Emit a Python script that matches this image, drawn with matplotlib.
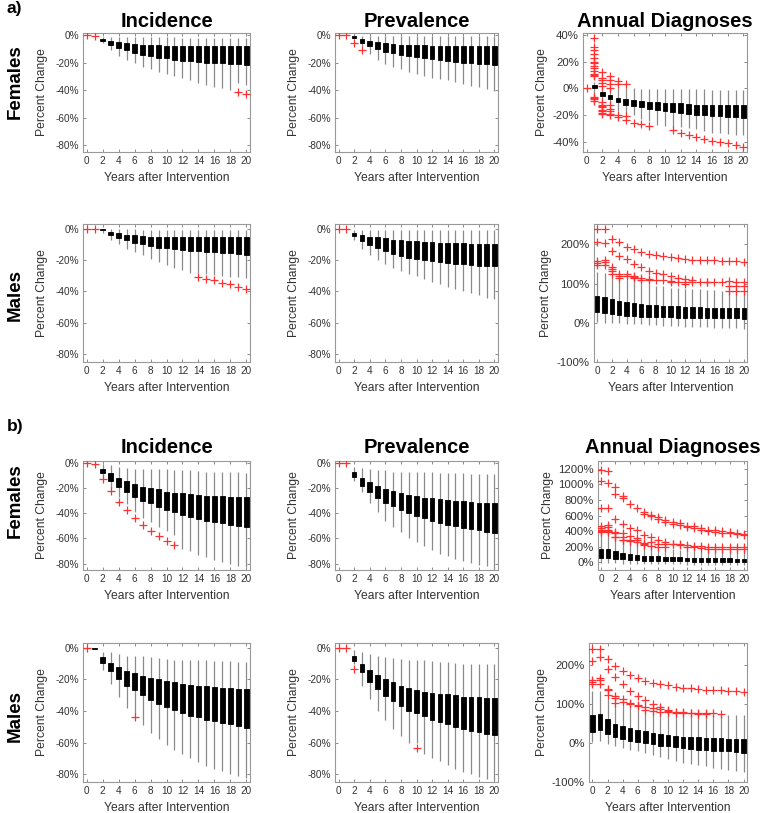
import numpy as np
import matplotlib
matplotlib.use("Agg")
import matplotlib.pyplot as plt
from matplotlib.ticker import FuncFormatter

plt.rcParams['font.family'] = ['Liberation Sans', 'DejaVu Sans']
plt.rcParams['axes.unicode_minus'] = False

nan = np.nan
years = list(range(21))

# ---- a) Females, Incidence ----
a_f_inc_q3 = [nan, nan, -2.5, -4, -5, -6, -6.5, -7, -7.5, -7.5, -8, -8, -8, -8, -8, -8, -8, -8, -8, -8, -8]
a_f_inc_q1 = [nan, nan, -4.5, -7, -9.5, -11, -13, -14.5, -15.5, -16.5, -17, -18, -18.5, -19, -19.5, -20, -20.5, -20.5, -21, -21, -21.5]
a_f_inc_hi = [nan, nan, -1.5, -1.5, -1.5, -1.5, -1.5, -1.5, -1.5, -1.5, -1.5, -1.5, -2, -2, -2, -2, -2, -2, -2, -2, -2]
a_f_inc_lo = [nan, nan, -6, -11, -15, -18, -20.5, -23, -24.5, -26.5, -28, -30, -31.5, -33, -34.5, -36, -37.5, -38.5, -40, -35, -36]
a_f_inc_out = [[0], [-0.5], [], [], [], [], [], [], [], [], [], [], [], [], [], [], [], [], [], [-41.5], [-42.5]]

# ---- a) Females, Prevalence ----
a_f_prev_q3 = [nan, nan, -0.5, -3, -4, -5, -6, -6.5, -7, -7, -7.5, -7.5, -8, -8, -8, -8, -8, -8, -8, -8, -8]
a_f_prev_q1 = [nan, nan, -2, -6, -8, -10, -12, -13, -14.5, -15.5, -16, -17, -17.5, -18, -19, -19.5, -20, -20.5, -21, -21, -21.5]
a_f_prev_hi = [nan, nan, 0, -0.5, -1, -1, -1, -1, -1, -1, -1, -1, -1, -1, -1, -1, -1, -1, -1, -1, -1]
a_f_prev_lo = [nan, nan, -3, -8, -14, -18, -21, -23, -25, -27, -28, -29.5, -31, -32, -33, -34, -35.5, -37, -38, -39.5, -41]
a_f_prev_out = [[0], [0], [-5.5], [-11], [], [], [], [], [], [], [], [], [], [], [], [], [], [], [], [], []]

# ---- a) Females, Annual Diagnoses ----
a_f_dx_q3 = [nan, 2.5, -3, -5, -7, -8, -8.5, -9, -10, -10, -11, -11, -11, -11.5, -12, -12, -12, -12, -12.5, -12.5, -12.5]
a_f_dx_q1 = [nan, 0.5, -5.5, -8, -10, -12, -13, -14, -15, -16, -17, -17.5, -18, -19, -19.5, -20, -20.5, -20.5, -21, -21.5, -22]
a_f_dx_hi = [nan, 5, 1, 0, 0, 0, 0, -0.5, -0.5, -0.5, -0.5, -0.5, -0.5, -0.5, -0.5, -0.5, -1, -1, -1, -1, -1]
a_f_dx_lo = [nan, -4, -9, -11, -17, -19, -20, -23, -24, -27, -28, -28.5, -29, -29.5, -30.5, -32, -33, -33.5, -34, -34.5, -35]
a_f_dx_out = [[0.5],
              [38, 31, 29, 26, 23, 20, 19, 17, 15, 13, 11, 10, 9, -6, -7, -8, -9],
              [12, 8, 6, 4, 2, -10, -12, -13, -14, -16, -17, -18, -19],
              [9, 6, 3, 0, -12, -15, -17, -19, -20],
              [5.5, 3, -19.5, -21.5], [3, -20.5, -23.5], [-25.5], [-26.5], [-28], [], [],
              [-31], [-33], [-34.5], [-36], [-37.5], [-39], [-40], [-41], [-42], [-43.5]]

# ---- a) Males, Incidence ----
a_m_inc_q3 = [nan, nan, -0.5, -2, -3, -4, -4, -4.5, -5, -5, -5, -5, -5.5, -5.5, -5.5, -5.5, -5.5, -5.5, -5.5, -5.5, -5.5]
a_m_inc_q1 = [nan, nan, -1, -4, -6, -7.5, -9, -10, -11, -12, -12.5, -13, -13.5, -14, -14.5, -15, -15, -15.5, -15.5, -16, -16.5]
a_m_inc_hi = [nan, nan, 0, -0.5, -0.5, -0.5, -0.5, -1, -1, -1, -1, -1, -1, -1, -1, -1, -1, -1, -1, -1, -1]
a_m_inc_lo = [nan, nan, -2.5, -7, -10, -13, -15, -17, -19.5, -21, -23, -25, -26.5, -28, -28.5, -29, -29.5, -30, -30.5, -31, -31.5]
a_m_inc_out = [[0], [-0.3], [], [], [], [], [], [], [], [], [], [], [], [],
               [-30.5], [-32], [-33], [-34.5], [-35.5], [-37], [-38.5]]

# ---- a) Males, Prevalence ----
a_m_prev_q3 = [nan, nan, -2.5, -4, -5, -5.5, -6, -7, -7.5, -8, -8, -8.5, -8.5, -9, -9, -9, -9, -9.5, -9.5, -9.5, -9.5]
a_m_prev_q1 = [nan, nan, -4.5, -8, -10.5, -12.5, -14.5, -16, -17.5, -18.5, -19.5, -20, -20.5, -21, -22, -22.5, -22.5, -23, -23.5, -24, -24]
a_m_prev_hi = [nan, nan, -1, -1, -1, -1, -1, -1, -1, -1, -1, -1, -1, -1, -1, -1, -1, -1, -1, -1, -1]
a_m_prev_lo = [nan, nan, -7, -13, -17, -20, -22.5, -25, -27, -29, -30, -32, -34, -35.5, -37, -38.5, -40, -41, -42.5, -44, -45]
a_m_prev_out = [[0], [0]] + [[] for _ in range(19)]

# ---- a) Males, Annual Diagnoses ----
a_m_dx_q3 = [68, 66, 60, 56, 52, 50, 48, 46, 45, 44, 43, 42, 41, 40, 40, 39, 39, 38, 38, 38, 37]
a_m_dx_q1 = [28, 25, 22, 20, 18, 17, 16, 15, 14, 14, 14, 13, 13, 12, 12, 12, 11, 11, 11, 11, 10]
a_m_dx_hi = [130, 128, 120, 112, 108, 104, 100, 98, 95, 93, 90, 88, 87, 86, 85, 84, 83, 82, 82, 81, 81]
a_m_dx_lo = [2, 0, 0, 0, -2, -3, -4, -5, -6, -7, -8, -9, -10, -10, -11, -12, -13, -13, -14, -14, -15]
a_m_dx_out = [[240, 207, 157, 153, 148], [238, 203, 160, 155, 148], [215, 183, 143, 137, 133, 125],
              [205, 170, 125, 120, 115], [194, 162, 125, 120], [187, 150, 120, 117, 115],
              [181, 142, 114, 110], [176, 133, 112, 110], [172, 128, 110], [170, 125, 108],
              [167, 120, 106, 104], [166, 115, 105], [163, 112, 104, 100], [161, 108, 104],
              [160, 104], [160, 105, 103], [159, 103], [158, 103], [157, 106, 95, 80],
              [157, 105, 95, 80], [156, 105, 95, 80]]

# ---- b) Females, Incidence ----
b_f_inc_q3 = [nan, -0.5, -5, -8, -12, -14, -17, -19, -20, -21, -23, -23.5, -24, -25, -25.5, -26, -26, -26.5, -27, -27, -27]
b_f_inc_q1 = [nan, -1, -8, -14, -19, -23, -27, -30, -32, -35, -37, -39, -41, -43, -44.5, -46, -47, -48, -49, -50, -51]
b_f_inc_hi = [nan, -0.5, -1, -2, -3, -4, -5, -5, -5, -5, -5, -6, -6, -6, -6.5, -7, -7, -7, -7, -7.5, -8]
b_f_inc_lo = [nan, -1, -11, -20, -27, -33, -39, -44, -47, -51, -54, -57, -68, -70, -73, -75, -77, -79, -80, -82, -83]
b_f_inc_out = [[0], [-1], [-12.5], [-22.5], [-31], [-37.5], [-44], [-49.5], [-54], [-58], [-62], [-65],
               [], [], [], [], [], [], [], [], []]

# ---- b) Females, Prevalence ----
b_f_prev_q3 = [nan, nan, -7, -12, -15, -18, -20.5, -22.5, -24, -25.5, -26.5, -27.5, -28, -29, -29.5, -30, -30.5, -31, -31.5, -32, -32]
b_f_prev_q1 = [nan, nan, -11, -18, -23, -27.5, -31.5, -34.5, -37, -40, -42, -44, -46, -47.5, -49, -50, -51.5, -52.5, -53.5, -54.5, -55.5]
b_f_prev_hi = [nan, nan, -3, -4, -5, -6, -6, -7, -7, -7, -7.5, -7.5, -7.5, -8, -8, -8, -8, -8.5, -8.5, -8.5, -8.5]
b_f_prev_lo = [nan, nan, -14, -23, -32, -39, -46, -51, -55, -60, -63, -66, -69, -72, -74, -76, -78, -79.5, -81, -82, -84]
b_f_prev_out = [[0], [0]] + [[] for _ in range(19)]

# ---- b) Females, Annual Diagnoses ----
b_f_dx_q3 = [175, 170, 150, 120, 105, 95, 85, 80, 75, 70, 66, 63, 60, 58, 56, 54, 52, 50, 48, 47, 46]
b_f_dx_q1 = [55, 50, 45, 35, 30, 25, 20, 18, 15, 13, 12, 11, 10, 9, 8, 7, 6, 5, 5, 4, 4]
b_f_dx_hi = [360, 360, 300, 260, 240, 220, 200, 190, 180, 170, 165, 160, 155, 150, 150, 145, 145, 140, 140, 140, 140]
b_f_dx_lo = [-10, -10, -15, -20, -20, -22, -24, -25, -26, -27, -28, -29, -30, -30, -31, -32, -32, -33, -33, -34, -34]
b_f_dx_out = [[1190, 1040, 690, 460, 440, 420, 400, 390], [1170, 1020, 690, 480, 450, 420, 400, 385],
              [960, 880, 560, 390, 370, 330, 320], [850, 820, 490, 370, 330, 290, 280],
              [750, 440, 340, 290, 270], [700, 410, 310, 280, 260], [650, 620, 350, 250, 230, 220],
              [610, 590, 320, 260, 210], [580, 560, 280, 240, 200], [540, 520, 260, 240, 200],
              [520, 490, 240, 230], [500, 480, 230, 220], [470, 450, 220, 200], [460, 440, 210, 190],
              [440, 420, 210, 180], [420, 400, 200, 170], [410, 390, 200, 170], [400, 380, 200, 170],
              [390, 370, 200, 170], [370, 360, 200, 170], [360, 350, 200, 170]]

# ---- b) Males, Incidence ----
b_m_inc_q3 = [nan, -0.3, -6, -9.5, -12, -14.5, -16, -18, -19, -20, -21, -22, -23, -23.5, -24, -24.5, -25, -25.5, -25.5, -26, -26]
b_m_inc_q1 = [nan, -0.8, -9.5, -15, -20, -24, -27, -30, -33, -35.5, -37.5, -39.5, -41, -43, -44, -45.5, -46.5, -47.5, -48.5, -49.5, -50.5]
b_m_inc_hi = [nan, -0.3, -3, -3, -4, -5, -5, -5.5, -6, -6.5, -7, -7.5, -7.5, -8, -8, -8, -8.5, -8.5, -8.5, -9, -9]
b_m_inc_lo = [nan, -0.8, -14, -23, -31, -38, -42, -49, -54, -58, -61.5, -64.5, -67.5, -70, -72.5, -75, -76.5, -78, -80, -81, -82.5]
b_m_inc_out = [[0], [], [], [], [], [], [-44]] + [[] for _ in range(14)]

# ---- b) Males, Prevalence ----
b_m_prev_q3 = [nan, nan, -5.5, -10, -14, -17.5, -20, -22, -24, -25.5, -27, -28, -28.5, -29, -29.5, -30, -31, -31.5, -31.5, -32, -32]
b_m_prev_q1 = [nan, nan, -8.5, -15.5, -21.5, -26, -30.5, -34, -37, -40, -41.5, -43.5, -45.5, -47, -48.5, -50, -51.5, -52.5, -53.5, -54.5, -55.5]
b_m_prev_hi = [nan, nan, -1.5, -3, -4, -5, -6, -6.5, -7, -8, -8, -8, -8.5, -9, -9, -9.5, -10, -10, -10, -10.5, -10.5]
b_m_prev_lo = [nan, nan, -10, -24, -32.5, -40, -46, -51.5, -56, -60, -60, -67, -69.5, -72, -74.5, -77, -78.5, -80, -82, -83, -84]
b_m_prev_out = [[0], [0], [-13.5], [], [], [], [], [], [], [], [-63.5]] + [[] for _ in range(10)]

# ---- b) Males, Annual Diagnoses ----
b_m_dx_q3 = [70, 74, 60, 49, 42, 37, 33, 29, 25, 22, 20, 18, 16, 15, 14, 13, 12, 12, 11, 11, 10]
b_m_dx_q1 = [28, 33, 22, 15, 10, 5, 2, -1, -4, -7, -9, -11, -13, -15, -17, -18, -20, -21, -22, -24, -25]
b_m_dx_hi = [132, 132, 113, 103, 95, 90, 85, 80, 77, 74, 71, 69, 68, 68, 69, 69, 70, 70, 70, 70, 70]
b_m_dx_lo = [2, 5, -2, -8, -12, -17, -22, -27, -32, -37, -42, -47, -51, -54, -57, -60, -63, -66, -69, -72, -75]
b_m_dx_out = [[240, 208, 160, 155, 150], [240, 220, 165, 160, 150], [214, 188, 138, 135, 122],
              [197, 167, 120, 115, 103], [183, 150, 112, 105], [173, 133, 103, 100],
              [165, 120, 97, 93], [158, 110, 92, 85], [153, 100, 88, 82], [150, 92, 86, 80],
              [147, 85, 82, 78], [143, 80, 77], [141, 78, 75], [139, 77, 75], [137, 76, 74],
              [136, 75, 73], [135, 75], [134, 74], [133], [132], [131]]

W, H = 760, 813
fig = plt.figure(figsize=(W / 100, H / 100), dpi=100)


def px_axes(left, right, top, bottom):
    return fig.add_axes([left / W, 1 - bottom / H, (right - left) / W, (bottom - top) / H])


def draw_panel(ax, q3, q1, hi, lo, out, ylim, yticks, label_off, ysize):
    x = np.array(years)
    q3 = np.array(q3, float)
    q1 = np.array(q1, float)
    hi = np.array(hi, float)
    lo = np.array(lo, float)
    ok = ~np.isnan(q1)
    ax.vlines(x[ok], lo[ok], hi[ok], color='#8a8a8a', lw=0.9, zorder=2)
    ax.bar(x[ok], q3[ok] - q1[ok], bottom=q1[ok], width=0.6, color='black',
           edgecolor='black', lw=0.6, zorder=3)
    for i, vals in enumerate(out):
        if vals:
            ax.plot([i] * len(vals), vals, linestyle='none', marker='+',
                    color='#ff3030', ms=5.5, mew=0.9, zorder=5)
    ax.set_xlim(-0.45, 20.45)
    ax.set_ylim(*ylim)
    ax.set_xticks(range(0, 21, 2))
    ax.set_yticks(yticks)
    ax.yaxis.set_major_formatter(FuncFormatter(lambda v, p: f'{int(round(v))}%'))
    ax.tick_params(direction='in', length=2, width=0.6, colors='#777777',
                   labelcolor='#333333', labelsize=7.2, pad=3, top=True, right=True)
    ax.tick_params(axis='y', labelsize=ysize)
    for s in ax.spines.values():
        s.set_color('#999999')
        s.set_linewidth(0.8)
    bb = ax.get_position()
    ax.set_ylabel('Percent Change', fontsize=8.7, color='#333333', va='center')
    ax.yaxis.set_label_coords(-label_off / (bb.width * W), 0.5)
    ax.set_xlabel('Years after Intervention', fontsize=8.7, color='#333333', va='center')
    ax.xaxis.set_label_coords(0.5, -26 / (bb.height * H))


inc_ticks = [-80, -60, -40, -20, 0]

# row pixel extents (top, bottom)
rows = [(33, 152), (224, 362), (461, 570), (643, 782)]
col1 = (83, 250)
col2 = (335, 498)
col3_left = [583, 594, 598, 589]

panels = [
    (a_f_inc_q3, a_f_inc_q1, a_f_inc_hi, a_f_inc_lo, a_f_inc_out),
    (a_f_prev_q3, a_f_prev_q1, a_f_prev_hi, a_f_prev_lo, a_f_prev_out),
    (a_f_dx_q3, a_f_dx_q1, a_f_dx_hi, a_f_dx_lo, a_f_dx_out),
    (a_m_inc_q3, a_m_inc_q1, a_m_inc_hi, a_m_inc_lo, a_m_inc_out),
    (a_m_prev_q3, a_m_prev_q1, a_m_prev_hi, a_m_prev_lo, a_m_prev_out),
    (a_m_dx_q3, a_m_dx_q1, a_m_dx_hi, a_m_dx_lo, a_m_dx_out),
    (b_f_inc_q3, b_f_inc_q1, b_f_inc_hi, b_f_inc_lo, b_f_inc_out),
    (b_f_prev_q3, b_f_prev_q1, b_f_prev_hi, b_f_prev_lo, b_f_prev_out),
    (b_f_dx_q3, b_f_dx_q1, b_f_dx_hi, b_f_dx_lo, b_f_dx_out),
    (b_m_inc_q3, b_m_inc_q1, b_m_inc_hi, b_m_inc_lo, b_m_inc_out),
    (b_m_prev_q3, b_m_prev_q1, b_m_prev_hi, b_m_prev_lo, b_m_prev_out),
    (b_m_dx_q3, b_m_dx_q1, b_m_dx_hi, b_m_dx_lo, b_m_dx_out),
]

inc_ylims = [(-85, 1.5), (-85, 3), (-85, 1.5), (-85, 3)]
dx_ylims = [(-47.5, 41.5), (-100, 252), (-100, 1300), (-100, 255)]
dx_ticks = [[-40, -20, 0, 20, 40], [-100, 0, 100, 200],
            [0, 200, 400, 600, 800, 1000, 1200], [-100, 0, 100, 200]]
dx_label_off = [41, 48, 50, 47]
titles = ['Incidence', 'Prevalence', 'Annual Diagnoses']

for r, (top, bot) in enumerate(rows):
    for c in range(3):
        if c == 0:
            ax = px_axes(col1[0], col1[1], top, bot)
        elif c == 1:
            ax = px_axes(col2[0], col2[1], top, bot)
        else:
            ax = px_axes(col3_left[r], 747, top, bot)
        q3, q1, hi, lo, out = panels[r * 3 + c]
        if c < 2:
            draw_panel(ax, q3, q1, hi, lo, out, inc_ylims[r], inc_ticks, 41, 7.2)
        else:
            draw_panel(ax, q3, q1, hi, lo, out, dx_ylims[r], dx_ticks[r], dx_label_off[r], 8.2)
        if r in (0, 2):
            ax.set_title(titles[c], fontsize=14.5, fontweight='bold', pad=4.5 if r == 0 else 6)

# panel letters and row labels
fig.text(7 / W, 1 - 9 / H, 'a)', fontsize=12.5, fontweight='bold', ha='left', va='center')
fig.text(7 / W, 1 - 426 / H, 'b)', fontsize=12.5, fontweight='bold', ha='left', va='center')
for name, yc in [('Females', 82), ('Males', 295), ('Females', 501), ('Males', 716)]:
    fig.text(15 / W, 1 - yc / H, name, fontsize=13.5, fontweight='bold', rotation=90,
             ha='center', va='center')

fig.savefig('out.png', dpi=100)
